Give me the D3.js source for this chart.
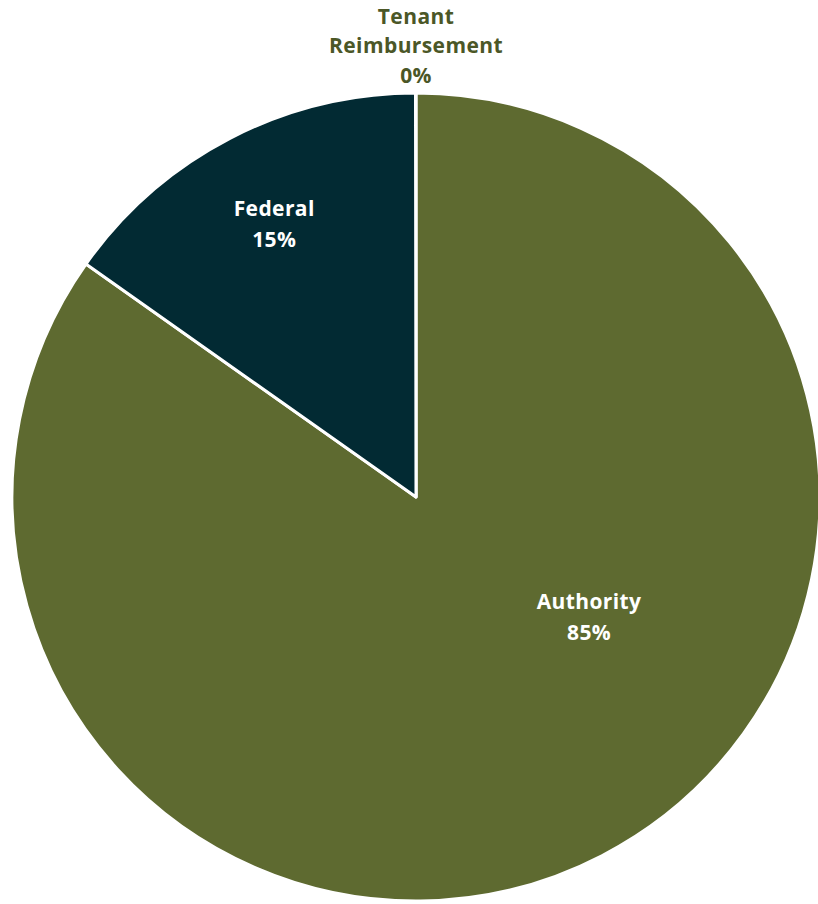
<!DOCTYPE html>
<html>
<head>
<meta charset="utf-8">
<script src="https://cdn.jsdelivr.net/npm/d3@7"></script>
<style>
  html, body { margin: 0; padding: 0; background: #fff; }
  svg { display: block; }
  text { font-family: "Open Sans", "Noto Sans", sans-serif; font-weight: 700; }
</style>
</head>
<body>
<svg id="chart" width="818" height="904"></svg>
<script>
// Funding sources (share of total)
const categories = ["Authority", "Tenant Reimbursement", "Federal"];
const values = [84.8, 0.02, 15.2];
const colors = ["#5E6A30", "#5E6A30", "#022A33"];

const width = 818, height = 904;
const cx = 416, cy = 497, radius = 404;

const svg = d3.select("#chart");
const g = svg.append("g").attr("transform", `translate(${cx},${cy})`);

const total = d3.sum(values);
const data = categories.map((c, i) => ({ name: c, value: values[i], color: colors[i] }));

// Clockwise from 12 o'clock: Authority, then Federal, Tenant sliver ends at top
const order = ["Authority", "Federal", "Tenant Reimbursement"];
const pie = d3.pie()
  .value(d => d.value)
  .sort((a, b) => order.indexOf(a.name) - order.indexOf(b.name));

const arc = d3.arc().innerRadius(0).outerRadius(radius);
const arcs = pie(data);

g.selectAll("path.slice")
  .data(arcs)
  .join("path")
  .attr("class", "slice")
  .attr("d", arc)
  .attr("fill", d => d.data.color)
  .attr("stroke", "#fff")
  .attr("stroke-width", 3)
  .attr("stroke-linejoin", "round");

const pct = v => Math.round(v / total * 100) + "%";

// Label placement: fraction of radius and angle (radians, clockwise from top)
function labelPoint(d) {
  const mid = (d.startAngle + d.endAngle) / 2;
  let r = 0.762 * radius, a = mid;
  if (d.data.name === "Authority") { r = 0.52 * radius; a = mid - 0.49; }
  if (d.data.name === "Tenant Reimbursement") { return [0, -radius - 48]; }
  return [Math.sin(a) * r, -Math.cos(a) * r];
}

const labels = g.selectAll("g.label")
  .data(arcs)
  .join("g")
  .attr("class", "label")
  .attr("transform", d => `translate(${labelPoint(d)})`);

labels.each(function(d) {
  const sel = d3.select(this);
  const outside = d.data.name === "Tenant Reimbursement";
  const lines = outside ? ["Tenant", "Reimbursement", pct(d.data.value)]
                        : [d.data.name, pct(d.data.value)];
  const lh = outside ? 29.5 : 31;
  const start = -(lines.length - 1) * lh / 2;
  sel.selectAll("text")
    .data(lines)
    .join("text")
    .attr("text-anchor", "middle")
    .attr("dominant-baseline", "central")
    .attr("y", (t, i) => start + i * lh)
    .attr("font-size", 21)
    .attr("letter-spacing", 0.4)
    .attr("fill", outside ? "#4B5727" : "#ffffff")
    .text(t => t);
});
</script>
</body>
</html>
